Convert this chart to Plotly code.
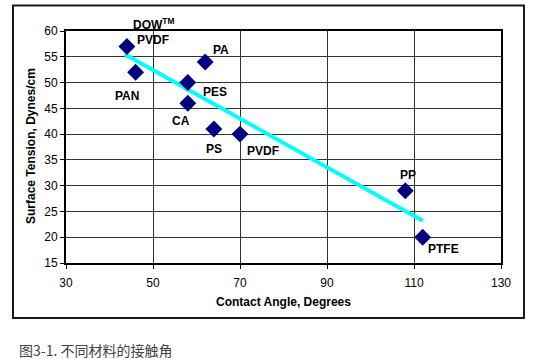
import plotly.graph_objects as go

# ---- data ----
materials = ["DOW PVDF", "PAN", "PA", "PES", "CA", "PS", "PVDF", "PP", "PTFE"]
contact_angle = [44, 46, 62, 58, 58, 64, 70, 108, 112]
surface_tension = [57, 52, 54, 50, 46, 41, 40, 29, 20]

trend_x = [43.5, 112]
trend_y = [55.5, 23.2]

x_ticks = [30, 50, 70, 90, 110, 130]
y_ticks = [15, 20, 25, 30, 35, 40, 45, 50, 55, 60]

label_texts = ["DOW<sup>TM</sup>", "PVDF", "PAN", "PA", "PES", "CA", "PS", "PVDF", "PP", "PTFE"]
label_point = [0, 0, 1, 2, 3, 4, 5, 6, 7, 8]
# pixel offsets of each label from its point
label_dx = [27, 26, -9, 16, 27, -7, 0, 23, 3, 21]
label_dy = [-22, -6, 24, -12, 9, 18, 20, 17, -16, 12]

caption = "图3-1. 不同材料的接触角"

# ---- figure ----
W, H = 543, 359
L, R, T, B = 66, 42, 31, 96
pw, ph = W - L - R, H - T - B


def px(x):
    return (x - L) / pw


def py(y):
    return (H - B - y) / ph


fig = go.Figure()
fig.add_trace(go.Scatter(x=trend_x, y=trend_y, mode="lines",
                         line=dict(color="#00FFFF", width=4), hoverinfo="skip",
                         showlegend=False))
fig.add_trace(go.Scatter(x=contact_angle, y=surface_tension, mode="markers",
                         text=materials,
                         marker=dict(symbol="diamond", size=13, color="#000080",
                                     line=dict(width=0)),
                         showlegend=False))

annotations = []
for t, i, dx, dy in zip(label_texts, label_point, label_dx, label_dy):
    annotations.append(dict(x=contact_angle[i], y=surface_tension[i], xref="x", yref="y",
                            text=t, showarrow=False, xshift=dx, yshift=-dy,
                            font=dict(family="Liberation Sans, Arial", size=12,
                                      color="black", weight="bold"),
                            xanchor="center", yanchor="middle"))

annotations.append(dict(x=px(283), y=py(302), xref="paper", yref="paper",
                        text="Contact Angle, Degrees", showarrow=False,
                        font=dict(family="Liberation Sans, Arial", size=12,
                                  color="black", weight="bold"),
                        xanchor="center", yanchor="middle"))
annotations.append(dict(x=px(31), y=py(146), xref="paper", yref="paper",
                        text="Surface Tension, Dynes/cm", showarrow=False, textangle=-90,
                        font=dict(family="Liberation Sans, Arial", size=12,
                                  color="black", weight="bold"),
                        xanchor="center", yanchor="middle"))
annotations.append(dict(x=px(17), y=py(350), xref="paper", yref="paper",
                        text=caption, showarrow=False,
                        font=dict(family="Noto Sans CJK SC", size=14, color="#444444"),
                        xanchor="left", yanchor="middle"))

frame_x0, frame_x1 = px(13), px(524)
frame_y0, frame_y1 = py(318), py(5.5)
shapes = [dict(type="rect", xref="paper", yref="paper",
               x0=frame_x0, x1=frame_x1, y0=frame_y0, y1=frame_y1,
               line=dict(color="#1a1a1a", width=2))]

axis_common = dict(showgrid=True, gridcolor="#333333", gridwidth=1, zeroline=False,
                   showline=True, linecolor="black", linewidth=2, mirror=True,
                   ticks="outside", ticklen=4, tickcolor="black", tickwidth=1,
                   tickfont=dict(family="Liberation Sans, Arial", size=12, color="black"))

fig.update_layout(
    width=W, height=H, autosize=False,
    margin=dict(l=L, r=R, t=T, b=B, pad=0),
    paper_bgcolor="white", plot_bgcolor="white",
    xaxis=dict(range=[30, 130], tickvals=x_ticks, ticklabelstandoff=4, **axis_common),
    yaxis=dict(range=[15, 60], tickvals=y_ticks, **axis_common),
    annotations=annotations, shapes=shapes,
    showlegend=False,
)

fig.write_html("out.html", config={"displayModeBar": False},
               post_script="document.body.style.margin='0';document.body.style.overflow='hidden';")
